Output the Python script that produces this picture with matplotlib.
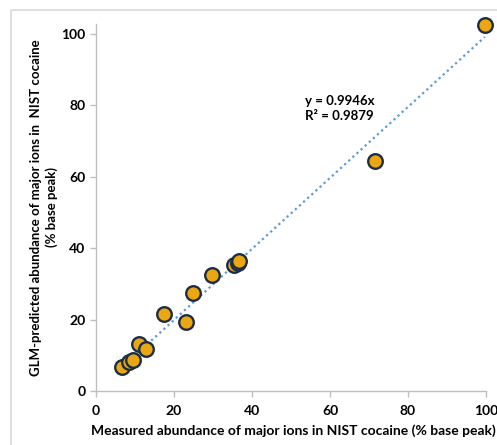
import numpy as np
import matplotlib.pyplot as plt
from matplotlib.patches import Rectangle

# measured vs GLM-predicted abundance (% base peak)
measured = [6.8, 8.6, 9.6, 11.1, 12.8, 17.4, 23.2, 25.0, 29.7, 35.3, 36.4, 36.8, 71.5, 99.7]
predicted = [6.8, 8.2, 8.6, 13.2, 11.9, 21.6, 19.3, 27.4, 32.5, 35.4, 35.9, 36.4, 64.5, 102.6]
slope = 0.9946
r2 = 0.9879
ticks = [0, 20, 40, 60, 80, 100]

plt.rcParams['font.family'] = ['Lato', 'DejaVu Sans']
plt.rcParams['font.weight'] = 'bold'

fig = plt.figure(figsize=(4.97, 4.45), dpi=100)
ax = fig.add_axes([0.193, 0.1213, 0.785, 0.825])

# chart border
fig.patches.append(Rectangle((11 / 497, -0.1), 1.2, 1.1 - 10 / 445, transform=fig.transFigure,
                             fill=False, edgecolor='#d9d9d9', linewidth=1.2))

# trendline through origin
xs = np.array([min(measured), max(measured)])
ax.plot(xs, slope * xs, linestyle=(0, (1, 1.5)), color='#5b9bd5', linewidth=1.6, zorder=1)

ax.scatter(measured, predicted, s=110, color='#eaa711', edgecolor='#1c2d45',
           linewidth=1.7, zorder=3, clip_on=False)

ax.text(53.5, 82.8, 'y = %.4fx\nR² = %.4f' % (slope, r2), fontsize=9.5, fontweight='bold',
        va='top', ha='left', linespacing=1.3)

ax.set_xlim(0, 100)
ax.set_ylim(0, 102.8)
ax.set_xticks(ticks)
ax.set_yticks(ticks)
ax.tick_params(labelsize=10, color='#bfbfbf', length=4, width=1)
ax.tick_params(axis='x', pad=6)
for lab in ax.get_xticklabels() + ax.get_yticklabels():
    lab.set_fontweight('bold')

for s in ['top', 'right']:
    ax.spines[s].set_visible(False)
for s in ['left', 'bottom']:
    ax.spines[s].set_color('#bfbfbf')
    ax.spines[s].set_linewidth(1)

ax.set_xlabel('Measured abundance of major ions in NIST cocaine (% base peak)',
              fontsize=10, fontweight='bold')
ax.set_ylabel('GLM-predicted abundance of major ions in  NIST cocaine\n(% base peak)',
              fontsize=9.5, fontweight='bold', linespacing=1.3)
ax.xaxis.set_label_coords(0.505, -0.09)
ax.yaxis.set_label_coords(-0.097, 0.5)

fig.savefig('out.png', dpi=100)
